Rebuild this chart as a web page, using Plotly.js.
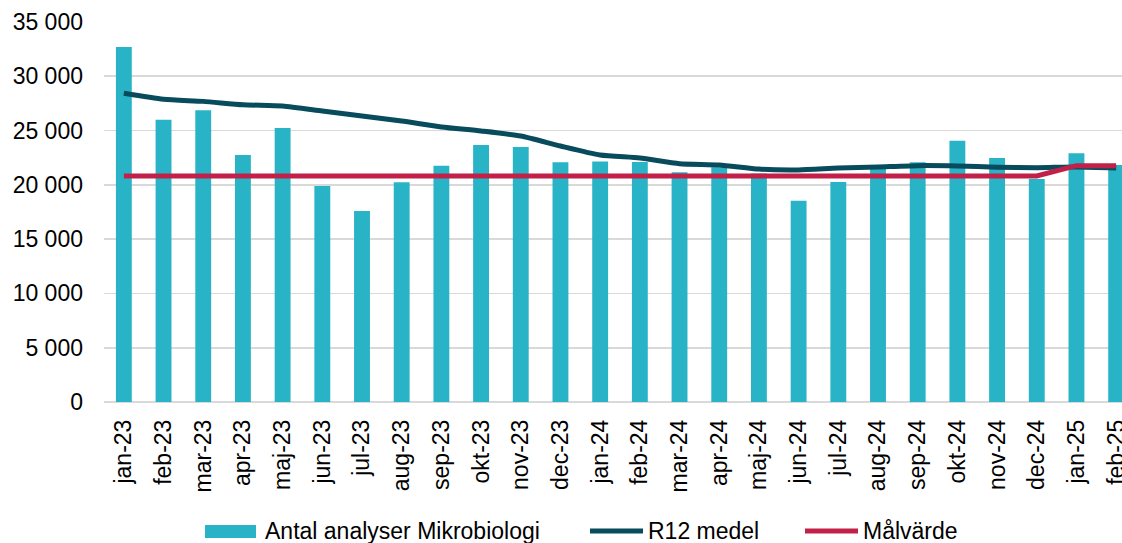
<!DOCTYPE html>
<html>
<head>
<meta charset="utf-8">
<script src="https://cdn.plot.ly/plotly-3.0.1.min.js"></script>
<style>
html,body{margin:0;padding:0;overflow:hidden;background:#fff;}
#chart{width:1160px;height:543px;}
</style>
</head>
<body>
<div id="chart"></div>
<script>
var months = ["jan-23","feb-23","mar-23","apr-23","maj-23","jun-23","jul-23","aug-23","sep-23","okt-23","nov-23","dec-23",
              "jan-24","feb-24","mar-24","apr-24","maj-24","jun-24","jul-24","aug-24","sep-24","okt-24","nov-24","dec-24",
              "jan-25","feb-25"];
var analyser = [32700,26000,26870,22750,25240,19900,17600,20250,21770,23670,23490,22080,
                22140,22100,21150,21620,21050,18540,20260,21500,22080,24070,22470,20540,
                22900,21830];
var r12 = [28430,27880,27690,27380,27260,26800,26340,25880,25330,24960,24500,23580,
           22750,22470,21950,21830,21450,21370,21550,21650,21770,21740,21620,21580,
           21650,21550];
var malvarde = [20820,20820,20820,20820,20820,20820,20820,20820,20820,20820,20820,20820,
                20820,20820,20820,20820,20820,20820,20820,20820,20820,20820,20820,20820,
                21770,21770];
var seriesNames = ["Antal analyser Mikrobiologi","R12 medel","Målvärde"];
var seriesColors = ["#29b3c6","#074b5c","#c12149"];
var yTicks = [0,5000,10000,15000,20000,25000,30000,35000];
var yTickText = ["0","5 000","10 000","15 000","20 000","25 000","30 000","35 000"];

var font = "Liberation Sans, Arial, sans-serif";
var fs = 23;

var traces = [
  {type:"bar", x:months, y:analyser, name:seriesNames[0],
   marker:{color:seriesColors[0]}, hoverinfo:"skip"},
  {type:"scatter", mode:"lines", x:months, y:r12, name:seriesNames[1],
   line:{color:seriesColors[1], width:5, shape:"spline", smoothing:0.6}, hoverinfo:"skip"},
  {type:"scatter", mode:"lines", x:months, y:malvarde, name:seriesNames[2],
   line:{color:seriesColors[2], width:5}, hoverinfo:"skip"}
];

// Custom legend (paper coordinates; plot area is 1032 x 380 px starting at (104, 22))
var L = 104, W = 1032, B = 402, H = 380;
function px(x){ return (x - L) / W; }
function py(y){ return (B - y) / H; }
var legendShapes = [
  {type:"rect", xref:"paper", yref:"paper", x0:px(205), x1:px(256), y0:py(525), y1:py(538),
   fillcolor:seriesColors[0], line:{width:0}},
  {type:"line", xref:"paper", yref:"paper", x0:px(590), x1:px(643), y0:py(531), y1:py(531),
   line:{color:seriesColors[1], width:5}},
  {type:"line", xref:"paper", yref:"paper", x0:px(805), x1:px(858), y0:py(531), y1:py(531),
   line:{color:seriesColors[2], width:5}}
];
var legendX = [263, 646, 861];
var legendAnn = seriesNames.map(function(n, i){
  return {xref:"paper", yref:"paper", x:px(legendX[i]), y:py(531), text:n, showarrow:false,
          xanchor:"left", yanchor:"middle", font:{family:font, size:fs, color:"#000"}};
});

var layout = {
  width:1160, height:543,
  margin:{l:104, r:24, t:22, b:141},
  paper_bgcolor:"#fff", plot_bgcolor:"#fff",
  font:{family:font, size:fs, color:"#000"},
  bargap:0.6,
  showlegend:false,
  shapes:legendShapes,
  annotations:legendAnn,
  xaxis:{type:"category", tickangle:-90, showgrid:false, zeroline:false,
         showline:false, ticks:"", ticklabelstandoff:12, automargin:false,
         tickfont:{family:font, size:fs, color:"#000"}, fixedrange:true},
  yaxis:{range:[0,35000], tickvals:yTicks, ticktext:yTickText, automargin:false,
         showgrid:true, gridcolor:"#d9d9d9", gridwidth:1.6,
         zeroline:true, zerolinecolor:"#d9d9d9", zerolinewidth:2,
         showline:false, ticks:"", ticklabelstandoff:20,
         tickfont:{family:font, size:fs, color:"#000"}, fixedrange:true}
};

Plotly.newPlot("chart", traces, layout, {displayModeBar:false, staticPlot:true});
</script>
</body>
</html>
